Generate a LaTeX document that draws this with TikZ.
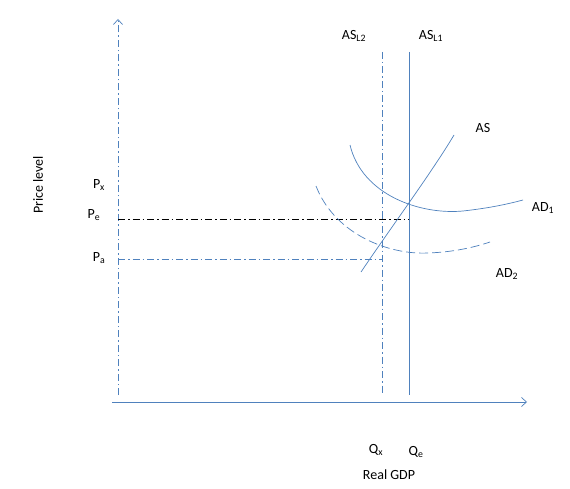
\documentclass[tikz,border=0pt]{standalone}
\usepackage{fontspec}
\setmainfont{Carlito}
\usetikzlibrary{arrows.meta}
\definecolor{chartblue}{HTML}{4F81BD}
\begin{document}
\begin{tikzpicture}[
  x=1pt, y=-1pt,
  lab/.style={font=\fontsize{14}{16}\selectfont, inner sep=1pt},
  dashdot/.style={dash pattern=on 7pt off 3pt on 1.5pt off 3pt},
  curve/.style={chartblue, line width=0.7pt},
  axarr/.style={-{Straight Barb[length=5pt, width=9pt]}, chartblue, line width=0.7pt}
]
\useasboundingbox (0,0) rectangle (570,489);
\coordinate (ybot) at (118,395); \coordinate (ytop) at (118,19);
\coordinate (xleft) at (112,402); \coordinate (xright) at (527,402);
\draw[axarr, dashdot] (ybot) -- (ytop);
\draw[axarr] (xleft) -- (xright);
\coordinate (asltwotop) at (382,52); \coordinate (asltwobot) at (382,395);
\coordinate (asloneto) at (409,52); \coordinate (aslonebo) at (409,395);
\draw[curve, dashdot] (asltwotop) -- (asltwobot);
\draw[curve] (asloneto) -- (aslonebo);
\coordinate (pestart) at (118,219); \coordinate (peend) at (409,219);
\coordinate (pastart) at (118,259); \coordinate (paend) at (382,259);
\draw[black, line width=0.7pt, dashdot] (pestart) -- (peend);
\draw[curve, dashdot] (pastart) -- (paend);
\draw[curve] (361,272) .. controls (392,226) and (432,172) .. (454,135);
\draw[curve] (350,145) .. controls (362,195) and (420,215) .. (463,211) .. controls (490,208) and (508,204) .. (523,200);
\draw[curve, dash pattern=on 9pt off 4pt] (316,186) .. controls (335,235) and (390,255) .. (428,253) .. controls (455,252) and (475,247) .. (490,242);
\node[lab, rotate=90] (ylabel) at (38,185) {Price level};
\node[lab] (pxlab) at (99,185) {P\textsubscript{x}};
\node[lab] (pelab) at (94,215) {P\textsubscript{e}};
\node[lab] (palab) at (99,258) {P\textsubscript{a}};
\node[lab] (asltwolab) at (354,36) {AS\textsubscript{L2}};
\node[lab] (aslonelab) at (431,36) {AS\textsubscript{L1}};
\node[lab] (aslab) at (483,128) {AS};
\node[lab] (adonelab) at (543,208) {AD\textsubscript{1}};
\node[lab] (adtwolab) at (507,274) {AD\textsubscript{2}};
\node[lab] (qxlab) at (376,450) {Q\textsubscript{x}};
\node[lab] (qelab) at (416,452) {Q\textsubscript{e}};
\node[lab] (xlabel) at (389,475) {Real GDP};
\end{tikzpicture}
\end{document}
